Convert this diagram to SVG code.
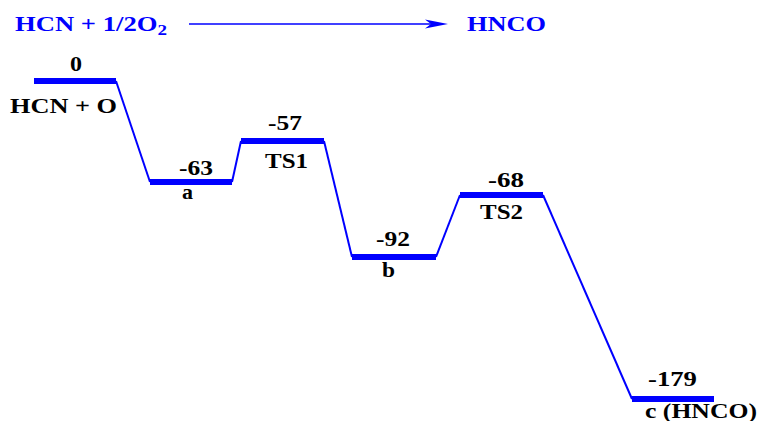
<svg xmlns="http://www.w3.org/2000/svg" width="758" height="421" viewBox="0 0 758 421">
<style>
.lvl{stroke:#0000ff;stroke-width:6;fill:none}
.con{stroke:#0000ff;stroke-width:2;fill:none}
.lab{font-family:"Liberation Serif","Times New Roman",serif;font-weight:bold;font-size:20px;fill:#000}
.ttl{font-family:"Liberation Serif","Times New Roman",serif;font-weight:bold;font-size:21px;fill:#0000ff}
</style>
<rect width="758" height="421" fill="#fff"/>
<g id="header">
<text class="ttl" x="15" y="31" textLength="152" lengthAdjust="spacingAndGlyphs">HCN + 1/2O<tspan font-size="15" dy="4">2</tspan></text>
<line x1="189" y1="24" x2="432" y2="24" stroke="#0000ff" stroke-width="1.6"/>
<polygon points="448,24 425,19.5 431,24 425,28.5" fill="#0000ff"/>
<text class="ttl" x="467" y="31" textLength="79" lengthAdjust="spacingAndGlyphs">HNCO</text>
</g>
<g id="connectors">
<line class="con" x1="116" y1="81" x2="150" y2="182"/>
<line class="con" x1="232" y1="182" x2="241" y2="141"/>
<line class="con" x1="324" y1="141" x2="352" y2="257"/>
<line class="con" x1="436" y1="257" x2="460" y2="195"/>
<line class="con" x1="543" y1="195" x2="632" y2="399"/>
</g>
<g id="reactant">
<line class="lvl" x1="34" y1="81" x2="116" y2="81"/>
<text class="lab" x="70" y="71" textLength="12" lengthAdjust="spacingAndGlyphs">0</text>
<text class="lab" x="10" y="113" textLength="107" lengthAdjust="spacingAndGlyphs">HCN + O</text>
</g>
<g id="a">
<line class="lvl" x1="150" y1="182" x2="232" y2="182"/>
<text class="lab" x="179" y="175" textLength="34" lengthAdjust="spacingAndGlyphs">-63</text>
<text class="lab" x="182" y="199" textLength="11" lengthAdjust="spacingAndGlyphs">a</text>
</g>
<g id="TS1">
<line class="lvl" x1="241" y1="141" x2="324" y2="141"/>
<text class="lab" x="268" y="130" textLength="34" lengthAdjust="spacingAndGlyphs">-57</text>
<text class="lab" x="265" y="168" textLength="43" lengthAdjust="spacingAndGlyphs">TS1</text>
</g>
<g id="b">
<line class="lvl" x1="352" y1="257" x2="436" y2="257"/>
<text class="lab" x="376" y="246" textLength="34" lengthAdjust="spacingAndGlyphs">-92</text>
<text class="lab" x="382" y="277" textLength="13" lengthAdjust="spacingAndGlyphs">b</text>
</g>
<g id="TS2">
<line class="lvl" x1="460" y1="195" x2="543" y2="195"/>
<text class="lab" x="488" y="187" textLength="36" lengthAdjust="spacingAndGlyphs">-68</text>
<text class="lab" x="480" y="219" textLength="43" lengthAdjust="spacingAndGlyphs">TS2</text>
</g>
<g id="c">
<line class="lvl" x1="632" y1="399" x2="714" y2="399"/>
<text class="lab" x="648" y="386" textLength="49" lengthAdjust="spacingAndGlyphs">-179</text>
<text class="lab" x="645" y="418" textLength="112" lengthAdjust="spacingAndGlyphs">c (HNCO)</text>
</g>
</svg>
